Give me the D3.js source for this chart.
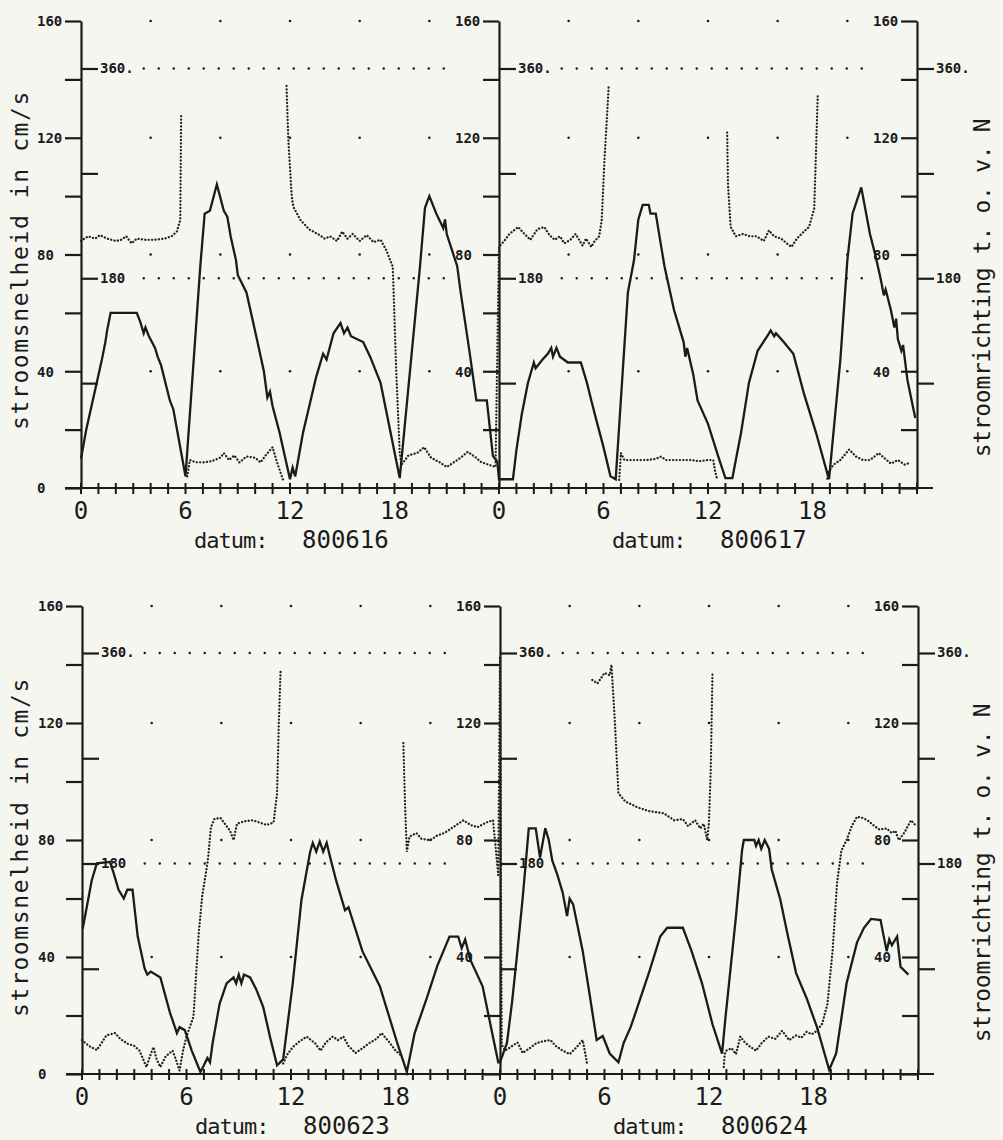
<!DOCTYPE html>
<html>
<head>
<meta charset="utf-8">
<script src="https://cdn.jsdelivr.net/npm/d3@7"></script>
<style>
  body { margin: 0; background: #f5f6f0; }
  svg { display: block; }
  text { font-family: "DejaVu Sans Mono", monospace; fill: #1b1b1b; }
</style>
</head>
<body>
<div id="chart"></div>
<script>
// current speed (cm/s) per day, [hour, value]
var speed_800616 = [[0,10],[0.3,20],[0.9,36],[1.2,44],[1.4,50],[1.5,54],[1.7,60],[3.2,60],[3.4,57],[3.6,53],[3.7,55],[3.9,52],
  [4.25,48],[4.4,45],[4.6,42],[5.1,30],[5.3,27],[6.0,4],[6.85,76],[7.1,94],[7.4,95],[7.8,104],[8.2,95],[8.4,93],[8.6,86],
  [8.9,78],[9.0,73],[9.5,67],[10.1,51],[10.5,40],[10.7,31],[10.85,33],[11.0,28],[11.4,19],[12.0,3],[12.15,7],[12.3,4],
  [12.75,19],[13.5,38],[13.9,46],[14.1,44],[14.5,53],[14.9,56.5],[15.1,53],[15.3,55],[15.5,52],[16.2,50],[16.6,45],
  [17.2,36],[18.3,3.4],[19.45,75],[19.75,96],[20.0,100],[20.4,94],[20.8,89],[20.9,92],[21.0,87],[21.6,76],[21.8,67],
  [22.3,47],[22.7,30],[23.3,30],[23.65,11],[23.9,9]];
var speed_800617 = [[0,3],[0.8,3],[1.0,13],[1.3,25],[1.66,36],[2.0,43],[2.1,41],[2.5,44],[2.8,46],[3.0,48],[3.1,45],[3.3,48],
  [3.5,45],[3.95,43],[4.7,43],[5.05,36],[5.3,30],[5.6,23],[6.0,14],[6.4,4],[6.7,3],[7.4,67],[7.75,78],[8.0,92],[8.25,97],
  [8.6,97],[8.7,94],[9.0,94],[9.5,76],[10.05,61],[10.6,50],[10.7,45],[10.8,48],[11.15,39],[11.4,30],[12.0,22],[12.6,10.6],
  [13.0,3.4],[13.4,3.4],[13.9,19],[14.35,36],[14.85,47],[15.4,52],[15.6,54],[15.8,52],[15.9,53],[16.35,50],[16.9,46],
  [17.5,32.5],[18.2,19],[18.85,5],[18.95,3],[19.6,44],[20.0,78],[20.3,94],[20.8,103],[21.3,87],[21.6,80],[21.9,72],
  [22.1,66],[22.2,68],[22.5,61],[22.7,55],[22.8,58],[22.9,51],[23.1,47],[23.2,49],[23.45,37],[23.9,24]];
var speed_800623 = [[0,50],[0.05,50],[0.35,59.5],[0.55,66],[0.85,72],[1.6,72.5],[1.8,69],[2.1,63],[2.4,60],[2.6,63],[2.9,63],
  [3.2,47],[3.6,36],[3.75,34],[3.95,35],[4.5,33],[5.05,21],[5.45,14],[5.6,16],[5.9,15],[6.3,8],[6.8,0.7],[7.0,3],[7.2,5.5],
  [7.35,4],[7.5,10.6],[7.9,24],[8.3,31],[8.7,33],[8.85,31],[9.0,34],[9.15,31],[9.3,34],[9.65,33],[10.0,29],[10.4,23],
  [10.8,12.6],[11.2,3],[11.55,5],[12.1,31],[12.6,59.5],[13.1,76],[13.25,79],[13.45,76],[13.65,79.5],[13.85,76],[14.05,79],
  [14.25,74],[14.6,66],[15.0,58],[15.1,56],[15.3,57],[16.1,42],[17.1,30],[18.1,10.6],[18.65,0.7],[19.1,14],[19.8,26],
  [20.4,37],[21.1,47],[21.6,47],[21.8,43],[22.0,46],[22.3,39],[23.0,30],[23.6,12.6],[23.9,4]];
var speed_800624 = [[0,4],[0.4,10.6],[0.7,25],[1.0,42],[1.3,60],[1.55,77],[1.65,84],[2.05,84],[2.3,74],[2.6,84],[2.8,80],
  [3.0,73],[3.3,68],[3.6,62],[3.85,54],[4.0,60],[4.2,58],[4.75,42],[5.15,27],[5.55,11.6],[5.9,13],[6.3,7],[6.8,4],[7.1,10.6],
  [7.5,16],[7.9,23],[8.6,35.5],[9.2,47],[9.6,50],[10.5,50],[11.0,42],[11.6,31],[12.2,17],[12.75,7],[12.95,19.5],[13.55,54],
  [13.9,76.6],[14.0,80],[14.6,80],[14.7,78],[14.85,80],[15.0,77],[15.2,80],[15.45,77],[15.6,70],[16.1,59.5],[16.5,48],
  [17.0,34.5],[17.6,26],[18.2,16],[18.9,1.4],[19.3,7],[19.9,31],[20.5,45],[20.9,50],[21.3,53],[21.85,52.6],[22.0,48],
  [22.2,42],[22.35,46],[22.5,44],[22.8,47],[23.0,36.6],[23.45,34]];

// current direction (degrees from N) per day, [hour, value]; null = pen lifted at the 0/360 wrap
var dir_800616 = [[0,212],[0.4,216],[0.8,214],[1.1,217],[1.5,214],[2.0,212],[2.3,213],[2.6,216],[2.9,210],[3.2,214],[3.7,213],
  [4.2,213],[4.8,214],[5.2,216],[5.5,220],[5.7,230],[5.75,320], null,
  [6.1,10],[6.25,24],[6.6,22],[7.0,22],[7.5,23],[8.0,26],[8.2,30],[8.5,24],[8.8,28],[9.1,22],[9.5,27],[10.0,26],[10.3,22],
  [10.6,28],[11.0,35],[11.3,20],[11.6,7], null,
  [11.8,345],[11.9,300],[12.1,250],[12.2,241],[12.6,230],[13.1,222],[13.6,218],[14.0,214],[14.3,216],[14.7,212],[15.0,220],
  [15.3,214],[15.6,218],[16.0,212],[16.4,217],[16.8,211],[17.2,213],[17.5,205],[17.9,190],[18.1,100],[18.3,30],[18.4,20],
  [18.8,28],[19.3,30],[19.7,35],[20.1,26],[20.6,22],[21.0,18],[21.4,22],[21.8,26],[22.2,31],[22.6,27],[23.0,22],[23.4,20],
  [23.8,18]];
var dir_800617 = [[0,207],[0.3,212],[0.6,218],[1.1,224],[1.4,219],[1.8,213],[2.2,222],[2.6,224],[2.9,217],[3.2,213],[3.5,216],
  [3.75,210],[4.1,213],[4.4,218],[4.8,208],[5.0,214],[5.3,207],[5.5,212],[5.75,216],[5.9,230],[6.05,280],[6.3,345], null,
  [6.9,7],[7.0,30],[7.2,24],[7.6,24],[8.0,24],[8.5,24],[9.0,25],[9.3,27],[9.6,24],[10.0,24],[10.5,24],[11.0,24],[11.5,23],
  [12.0,24],[12.3,24],[12.4,15],[12.5,9], null,
  [13.1,305],[13.15,260],[13.3,224],[13.6,216],[14.0,218],[14.4,216],[14.8,216],[15.2,212],[15.5,221],[15.8,216],[16.2,214],
  [16.6,209],[16.8,207],[17.1,214],[17.5,220],[17.8,224],[18.1,240],[18.3,336], null,
  [18.85,8],[18.9,13],[19.2,20],[19.6,24],[20.1,33],[20.5,27],[20.9,24],[21.3,24],[21.8,30],[22.1,26],[22.5,21],[22.9,24],
  [23.3,20],[23.65,22]];
var dir_800623 = [[0,29],[0.4,24],[0.85,20.5],[1.1,26],[1.4,33],[1.9,35],[2.2,30],[2.6,26],[3.0,24],[3.3,20],[3.7,6],[3.9,15],
  [4.1,23],[4.3,12],[4.5,6],[4.8,15],[5.2,20],[5.4,12],[5.6,3],[5.8,20],[6.0,32],[6.4,49],[6.7,120],[6.9,152],[7.2,180],
  [7.25,186],[7.4,211],[7.6,218],[7.95,219],[8.2,214],[8.5,208],[8.7,200],[8.9,214],[9.3,216],[9.8,217],[10.2,215],
  [10.6,213],[11.0,215],[11.2,240],[11.3,300],[11.4,344], null,
  [11.55,9],[11.8,17],[12.1,23],[12.5,28],[12.9,32],[13.4,26],[13.7,20],[14.0,27],[14.4,32],[14.7,29],[15.0,32],[15.3,24],
  [15.7,18],[16.1,22],[16.5,26.5],[16.9,30],[17.2,35],[17.6,28],[18.0,20],[18.4,15], null,
  [18.45,283],[18.55,230],[18.65,190],[18.8,203],[19.2,206],[19.5,201],[20.0,200],[20.4,204],[20.8,206],[21.3,211],
  [21.6,214],[21.9,217],[22.3,213],[22.7,211],[23.2,215],[23.6,217],[23.9,170]];
var dir_800624 = [[0,357],[0.1,25],[0.3,20],[0.6,23],[1.0,27],[1.3,18],[1.7,22],[2.1,26.5],[2.5,28],[2.9,29],[3.2,24],[3.6,20],
  [4.0,17],[4.4,23],[4.75,29],[5.0,9], null,
  [5.3,337],[5.6,334],[6.0,343],[6.3,341],[6.4,350],[6.6,300],[6.8,240],[7.2,233],[7.9,228],[8.5,225],[9.4,223],[10.0,217],
  [10.5,218],[10.8,212],[11.2,217],[11.5,210],[11.7,214],[11.9,200],[12.0,216],[12.1,260],[12.2,343], null,
  [12.85,6],[12.9,17],[13.0,20],[13.3,22],[13.55,17],[13.8,32],[14.0,28],[14.3,24],[14.7,20],[15.0,26],[15.4,32],[15.8,30],
  [16.2,37],[16.6,29],[17.0,33],[17.3,31],[17.6,36],[17.9,34],[18.2,37],[18.5,43],[18.8,60],[19.1,106],[19.35,163],
  [19.6,191],[19.9,200],[20.2,212],[20.5,220],[20.8,219],[21.1,217],[21.5,212],[21.8,209],[22.2,210],[22.5,206],
  [22.7,208],[22.9,200],[23.2,206],[23.6,217],[23.9,212]];

var dates = ["800616", "800617", "800623", "800624"];
var hourLabels = [0, 6, 12, 18];
var speedTicks = [0, 20, 40, 60, 80, 100, 120, 140, 160];
var speedLabels = [0, 40, 80, 120, 160];
var dirTicks = [90, 180, 270, 360];
var dirGridLines = [180, 360];
var gridHours = [4, 8, 12, 16, 20];
var gridSpeeds = [40, 80, 120, 160];

var rows = [
  { days: [0, 1], speed: [speed_800616, speed_800617], dir: [dir_800616, dir_800617],
    x0: 81, x1: 917, y0: 488, ySp: 21, yDir: 68.5, titleL: 260, titleR: 288 },
  { days: [2, 3], speed: [speed_800623, speed_800624], dir: [dir_800623, dir_800624],
    x0: 82, x1: 918, y0: 1074, ySp: 606, yDir: 653, titleL: 847, titleR: 873 }
];

var ink = "#1b1b1b";
var svg = d3.select("#chart").append("svg")
  .attr("width", 1003).attr("height", 1140);
svg.append("rect").attr("width", 1003).attr("height", 1140).attr("fill", "#f5f6f0");

// join two days into one continuous trace, second day shifted by 24 h
function joinDays(a, b) {
  return a.concat(b.map(function(p){ return p === null ? null : [p[0] + 24, p[1]]; }));
}

rows.forEach(function(row) {
  var x = d3.scaleLinear().domain([0, 48]).range([row.x0, row.x1]);
  var ySp = d3.scaleLinear().domain([0, 160]).range([row.y0, row.ySp]);
  var yDir = d3.scaleLinear().domain([0, 360]).range([row.y0, row.yDir]);
  var g = svg.append("g");

  // dotted helpers: 180/360 lines and speed dot grid
  [0, 1].forEach(function(i) {
    dirGridLines.forEach(function(d) {
      g.append("line")
        .attr("x1", x(3.6 + 24 * i)).attr("x2", x(21.4 + 24 * i))
        .attr("y1", yDir(d)).attr("y2", yDir(d))
        .attr("stroke", ink).attr("stroke-width", 2.4)
        .attr("stroke-linecap", "round").attr("stroke-dasharray", "0.1,14.9");
    });
    gridHours.forEach(function(h) {
      gridSpeeds.forEach(function(v) {
        g.append("circle").attr("cx", x(h + 24 * i)).attr("cy", ySp(v))
          .attr("r", 1.3).attr("fill", ink);
      });
    });
  });

  // vertical axes at 0, 24 and 48 h
  [0, 24, 48].forEach(function(h, k) {
    var ax = g.append("g").attr("transform", "translate(" + x(h) + ",0)")
      .call(d3.axisLeft(ySp).tickValues(speedTicks).tickSize(16).tickSizeOuter(0)
        .tickFormat(function(v) {
          if (speedLabels.indexOf(v) < 0) return "";
          if (v === 0 && k > 0) return "";
          return v;
        }));
    ax.attr("font-family", null).attr("font-size", 14).attr("text-anchor", "start");
    ax.selectAll("path, line").attr("stroke", ink).attr("stroke-width", 2.2);
    ax.selectAll("text").attr("x", -44).attr("dy", "0.34em")
      .attr("font-weight", "bold").attr("fill", ink);

    var ad = g.append("g").attr("transform", "translate(" + x(h) + ",0)")
      .call(d3.axisRight(yDir).tickValues(dirTicks).tickSize(17).tickSizeOuter(0)
        .tickFormat(function(d) { return d === 360 ? "360." : d === 180 ? "180" : ""; }));
    ad.select(".domain").remove();
    ad.attr("font-family", null).attr("font-size", 14);
    ad.selectAll("line").attr("stroke", ink).attr("stroke-width", 2.2);
    ad.selectAll("text").attr("x", 19).attr("dy", "0.28em")
      .attr("font-weight", "bold").attr("fill", ink);
  });

  // time axis with a cross tick every hour
  g.append("line").attr("x1", x(0) - 16).attr("x2", x(48) + 16)
    .attr("y1", row.y0).attr("y2", row.y0)
    .attr("stroke", ink).attr("stroke-width", 2.2);
  g.selectAll(".htick").data(d3.range(0, 49)).enter().append("line")
    .attr("x1", function(h){ return x(h); }).attr("x2", function(h){ return x(h); })
    .attr("y1", row.y0 - 5).attr("y2", row.y0 + 6)
    .attr("stroke", ink).attr("stroke-width", 2);

  [0, 1].forEach(function(i) {
    hourLabels.forEach(function(h) {
      g.append("text").attr("x", x(h + 24 * i)).attr("y", row.y0 + 31)
        .attr("text-anchor", "middle").attr("font-size", 24).text(h);
    });
    var cx = x(12 + 24 * i);
    var t = g.append("text").attr("y", row.y0 + 60);
    t.append("tspan").attr("x", cx - 96).attr("font-size", 22)
      .attr("letter-spacing", -1).text("datum:");
    t.append("tspan").attr("x", cx + 12).attr("font-size", 24).text(dates[row.days[i]]);
  });

  // axis titles
  g.append("text").attr("transform", "translate(28," + row.titleL + ") rotate(-90)")
    .attr("text-anchor", "middle").attr("font-size", 23).attr("letter-spacing", 1.6)
    .text("stroomsnelheid in cm/s");
  g.append("text").attr("transform", "translate(990," + row.titleR + ") rotate(-90)")
    .attr("text-anchor", "middle").attr("font-size", 23).attr("letter-spacing", -0.3)
    .text("stroomrichting t. o. v. N");

  // direction (dotted) and speed (solid)
  var dirLine = d3.line().defined(function(p){ return p !== null; })
    .x(function(p){ return x(p[0]); }).y(function(p){ return yDir(p[1]); });
  g.append("path").datum(joinDays(row.dir[0], row.dir[1])).attr("d", dirLine)
    .attr("fill", "none").attr("stroke", "#222").attr("stroke-width", 2.3)
    .attr("stroke-linecap", "round").attr("stroke-dasharray", "0.1,3.3");

  var spLine = d3.line().x(function(p){ return x(p[0]); }).y(function(p){ return ySp(p[1]); });
  g.append("path").datum(joinDays(row.speed[0], row.speed[1])).attr("d", spLine)
    .attr("fill", "none").attr("stroke", ink).attr("stroke-width", 2.3)
    .attr("stroke-linejoin", "miter");
});
</script>
</body>
</html>
